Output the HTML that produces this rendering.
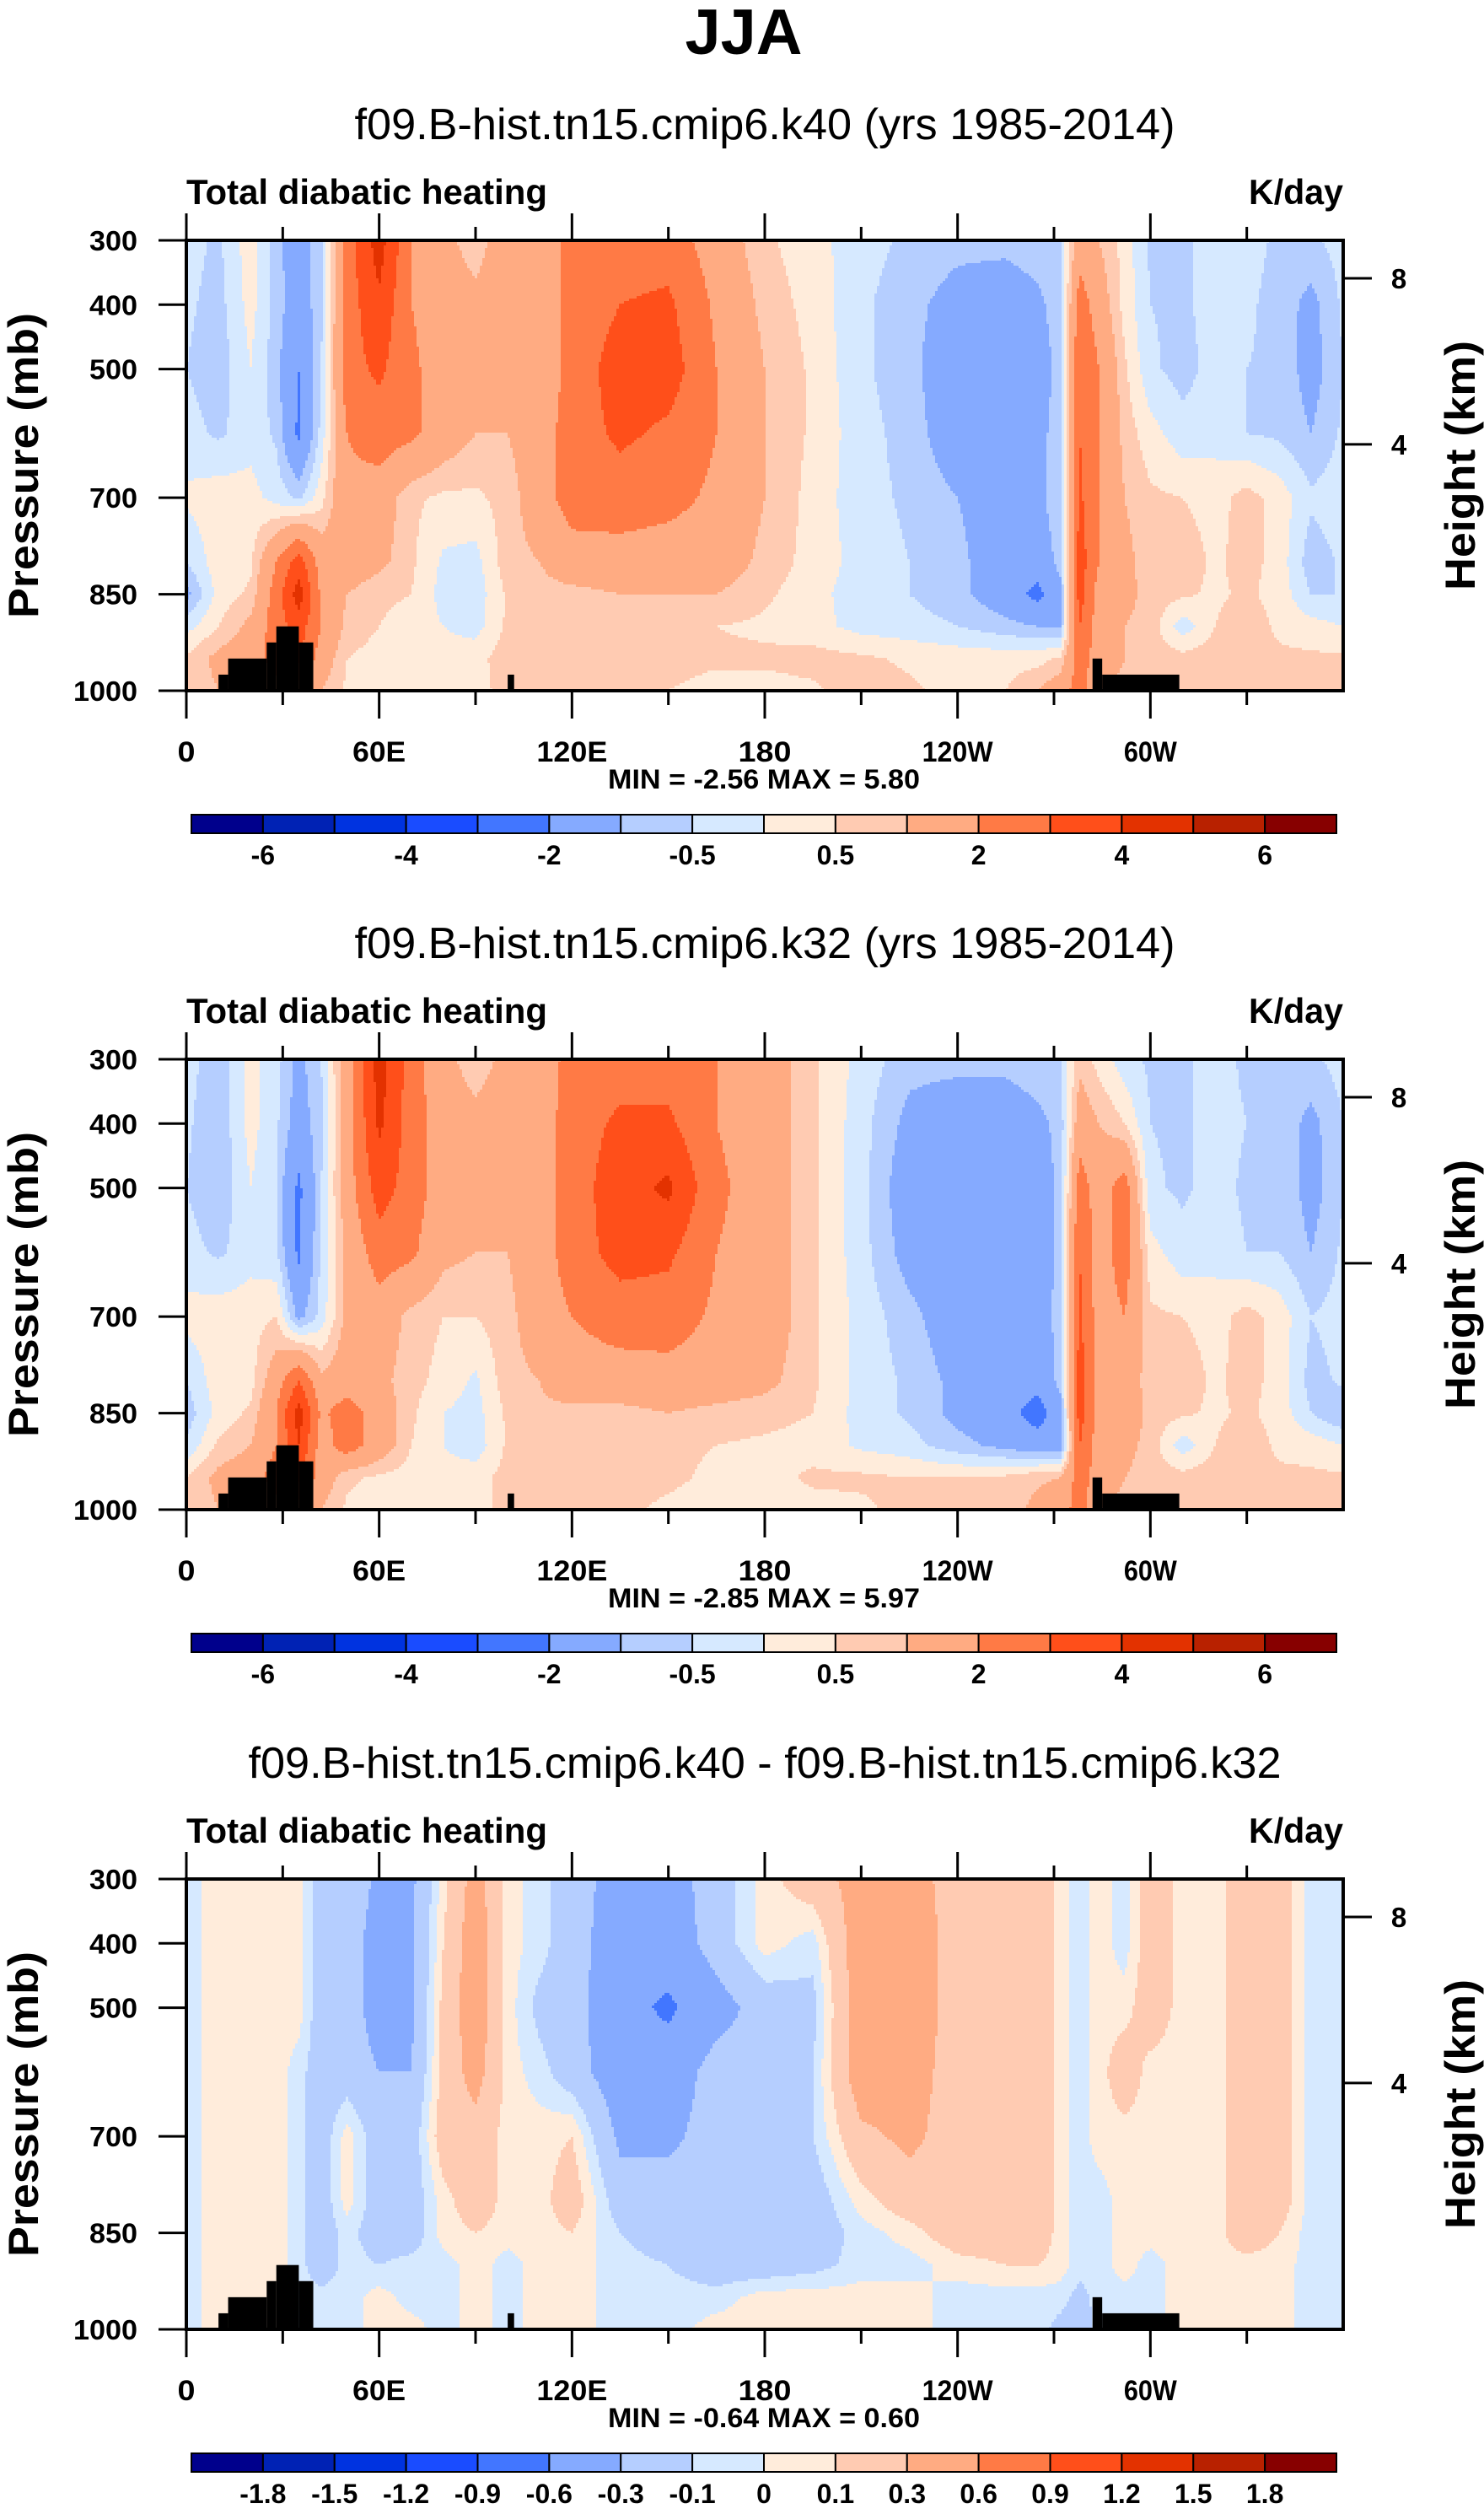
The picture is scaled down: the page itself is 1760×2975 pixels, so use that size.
<!DOCTYPE html>
<html><head><meta charset="utf-8"><style>
html,body{margin:0;padding:0;background:#fff;}
svg{display:block;font-family:"Liberation Sans",sans-serif;}
</style></head><body>
<svg id="fig" width="1760" height="2975" viewBox="0 0 1760 2975" xmlns="http://www.w3.org/2000/svg">
<text x="882" y="64" text-anchor="middle" font-size="76" font-weight="bold" textLength="139" lengthAdjust="spacingAndGlyphs">JJA</text>
</svg>
<script>
const lonNodes=[0,10,20,28,35,42,50,60,70,80,90,100,110,120,135,150,165,180,195,210,225,240,255,265,272,278,284,292,300,310,320,330,340,350,360];
const pLevels=[300,400,500,600,700,800,850,900,950,1000];
const field1=[
[-0.3,-0.6,0.3,-0.8,-1.5,-0.6,2.5,4.5,2.0,1.2,0.7,1.5,1.2,2.5,2.5,2.5,1.5,0.6,0.2,-0.3,-0.6,-0.8,-0.8,-0.6,-0.5,1.5,1.0,0.3,-0.6,-0.6,-0.3,-0.3,-0.6,-0.6,-0.3],
[-0.4,-0.7,0.2,-0.7,-1.5,-0.6,2.5,3.8,2.0,1.5,1.2,1.5,1.5,2.3,3.0,3.2,1.8,0.8,0.3,-0.4,-0.8,-1.3,-1.5,-1.2,-0.6,2.5,1.5,0.3,-0.5,-0.6,-0.3,-0.4,-0.7,-1.2,-0.4],
[-0.5,-0.8,0.0,-0.8,-2.0,-0.5,2.6,3.2,2.2,1.5,1.5,1.5,1.2,2.4,3.5,3.5,2.0,1.0,0.4,-0.4,-0.8,-1.6,-1.8,-1.5,-0.7,3.0,2.0,0.6,-0.4,-0.7,-0.3,-0.5,-0.6,-1.3,-0.5],
[-0.3,-0.6,-0.2,-0.6,-2.2,-0.3,2.0,2.5,2.2,1.5,1.0,1.0,1.5,2.5,3.2,2.8,2.0,1.0,0.4,-0.3,-0.7,-1.5,-1.6,-1.3,-0.6,3.0,2.0,0.8,0.2,-0.3,-0.2,-0.5,-0.6,-1.0,-0.4],
[0.1,0.3,0.2,-0.2,-0.6,0.3,1.8,1.5,0.6,0.4,0.4,0.7,1.5,2.5,2.5,2.3,1.8,1.0,0.3,-0.3,-0.6,-1.0,-1.5,-1.2,-0.6,3.2,2.0,1.0,0.6,0.5,0.3,0.7,0.3,-0.4,-0.2],
[-0.5,0.3,0.4,2.0,3.5,1.5,1.5,1.2,0.6,-0.1,-0.2,0.8,1.0,1.5,1.6,1.5,1.5,0.8,0.3,-0.2,-0.5,-0.8,-1.6,-1.5,-0.8,3.5,2.0,1.2,0.7,0.8,0.4,0.7,0.3,-0.8,-0.4],
[-1.2,0.2,0.6,2.5,4.5,1.8,1.0,0.6,0.5,-0.2,-0.3,0.6,0.8,0.8,1.0,1.0,1.0,0.6,0.2,-0.3,-0.5,-0.8,-1.5,-2.3,-1.2,3.5,1.5,1.2,0.8,0.6,0.4,0.6,0.3,-0.5,-0.5],
[-0.2,0.5,1.2,2.5,3.5,2.0,0.8,0.5,0.3,0.0,-0.2,0.6,0.8,0.7,0.6,0.5,0.5,0.4,0.2,-0.2,-0.3,-0.5,-0.8,-1.0,-1.0,3.0,1.5,1.0,0.8,-0.3,0.5,0.8,0.4,0.2,0.0],
[0.6,1.2,1.5,2.5,3.2,1.5,0.5,0.3,0.3,0.2,0.3,0.8,0.8,1.0,0.8,0.7,0.6,0.6,0.7,0.6,0.4,0.3,0.3,0.3,0.6,2.5,1.5,1.0,0.8,0.7,0.8,0.7,0.6,0.6,0.6],
[0.6,1.0,1.2,1.5,1.5,1.0,0.4,0.3,0.3,0.3,0.4,0.6,0.7,0.8,0.6,0.5,0.3,0.3,0.4,0.8,0.6,0.3,0.5,1.0,1.5,2.5,1.0,0.8,0.6,0.5,0.6,0.6,0.6,0.6,0.6]];
const field2=[
[-0.3,-0.8,0.2,-0.3,-1.2,-0.5,1.5,4.5,2.5,1.2,0.7,1.2,1.2,2.5,2.5,2.5,2.0,1.5,0.6,-0.2,-0.8,-0.8,-0.8,-0.6,-0.5,0.8,0.3,-0.3,-0.6,-0.6,-0.3,-0.6,-0.6,-0.6,-0.3],
[-0.4,-0.9,0.2,-0.4,-1.4,-0.6,1.5,4.2,2.5,1.5,1.2,1.5,1.5,2.5,3.2,3.2,2.0,1.5,0.6,-0.3,-1.2,-1.5,-1.5,-1.2,-0.8,1.5,1.0,0.5,-0.5,-0.6,-0.3,-0.5,-0.6,-1.2,-0.5],
[-0.5,-0.9,0.0,-0.5,-2.2,-0.5,1.5,3.5,2.5,1.5,1.5,1.5,1.5,2.5,3.6,4.2,2.2,1.5,0.6,-0.3,-1.5,-1.8,-1.8,-1.5,-0.8,2.5,1.5,2.5,-0.4,-0.6,-0.3,-0.6,-0.5,-1.3,-0.5],
[-0.3,-0.6,-0.2,-0.4,-2.2,-0.4,1.2,2.5,2.2,1.2,1.0,1.0,1.5,2.5,3.4,3.2,2.0,1.5,0.6,-0.3,-1.3,-1.6,-1.6,-1.5,-0.8,3.0,1.5,2.5,0.2,-0.3,-0.2,-0.5,-0.5,-1.0,-0.4],
[0.2,0.3,0.3,0.5,-1.2,-0.3,1.2,1.5,0.8,0.5,0.5,0.8,1.5,2.0,2.5,2.5,1.8,1.5,0.6,-0.2,-0.8,-1.5,-1.5,-1.5,-0.7,3.2,1.5,2.0,0.6,0.5,0.3,0.7,0.3,-0.5,-0.3],
[-0.5,0.3,0.3,1.5,3.0,1.2,1.5,1.2,0.7,0.3,-0.1,0.8,1.0,1.5,1.5,1.6,1.5,1.2,0.6,-0.2,-0.6,-1.2,-1.6,-1.6,-0.8,3.5,1.5,1.5,0.7,0.8,0.4,0.7,0.3,-0.7,-0.4],
[-0.8,0.2,0.6,2.0,4.5,1.8,2.5,1.5,0.6,0.0,-0.2,0.6,0.9,0.8,0.8,1.0,0.8,0.7,0.5,-0.2,-0.6,-1.2,-1.6,-2.5,-1.3,3.5,1.5,1.5,0.8,0.6,0.4,0.6,0.3,-0.5,-1.0],
[-0.4,0.6,1.0,2.0,4.0,1.5,2.5,1.5,0.5,0.0,-0.3,0.6,0.8,0.8,0.8,0.6,0.5,0.4,0.3,-0.1,-0.3,-0.8,-1.2,-1.5,-1.5,3.0,1.5,1.2,0.8,-0.3,0.5,0.8,0.4,0.3,0.0],
[0.5,1.2,1.5,2.5,3.2,1.5,0.6,0.4,0.3,0.2,0.3,0.7,0.8,1.0,0.7,0.6,0.4,0.3,0.6,0.6,0.5,0.5,0.6,0.9,1.0,2.5,1.5,1.0,0.8,0.7,0.8,0.7,0.6,0.6,0.6],
[0.6,1.0,1.2,1.5,1.5,1.0,0.4,0.3,0.3,0.3,0.4,0.6,0.7,0.8,0.6,0.4,0.3,0.3,0.3,0.4,0.7,0.7,0.7,1.2,1.5,2.5,1.0,0.8,0.6,0.5,0.6,0.6,0.6,0.6,0.6]];
const field3=[
[-0.05,0.05,0.05,0.05,0.05,-0.2,-0.15,-0.35,-0.35,0.05,0.4,0.05,-0.05,-0.2,-0.4,-0.4,-0.2,0.05,0.2,0.4,0.4,0.2,0.2,0.2,0.05,-0.05,0.05,-0.05,0.2,0.05,0.05,0.2,0.2,-0.05,-0.05],
[-0.05,0.05,0.05,0.05,0.05,-0.2,-0.2,-0.4,-0.35,0.1,0.45,0.05,-0.05,-0.2,-0.45,-0.45,-0.2,0.05,-0.05,0.45,0.45,0.2,0.2,0.2,0.05,-0.05,0.05,-0.05,0.2,0.05,0.05,0.2,0.2,-0.05,-0.05],
[-0.05,0.05,0.05,0.05,0.05,-0.2,-0.2,-0.4,-0.35,0.15,0.45,0.05,-0.15,-0.2,-0.5,-0.65,-0.4,-0.2,-0.15,0.45,0.45,0.2,0.2,0.2,0.05,-0.05,0.05,0.05,0.2,0.05,0.05,0.2,0.2,-0.05,-0.05],
[-0.05,0.05,0.05,0.05,-0.05,-0.2,-0.2,-0.3,-0.3,0.15,0.4,0.05,-0.05,-0.2,-0.45,-0.45,-0.2,-0.2,-0.1,0.45,0.4,0.2,0.2,0.2,0.05,-0.05,0.05,0.2,0.05,0.05,0.05,0.2,0.2,-0.05,-0.05],
[-0.05,0.05,0.05,0.05,-0.05,-0.2,0.05,-0.2,-0.2,0.2,0.2,0.05,0.05,0.1,-0.35,-0.35,-0.2,-0.2,-0.1,0.25,0.35,0.2,0.2,0.2,0.05,-0.05,0.05,0.05,0.05,0.05,0.05,0.2,0.2,-0.05,-0.05],
[-0.05,0.05,0.05,0.05,-0.05,-0.2,0.05,-0.2,-0.2,0.05,0.2,0.05,0.05,0.2,-0.2,-0.2,-0.2,-0.2,-0.2,0.05,0.2,0.2,0.2,0.2,0.05,-0.05,-0.05,0.05,0.05,0.05,0.05,0.2,0.2,-0.05,-0.05],
[-0.05,0.05,0.05,0.05,-0.05,-0.2,-0.05,-0.2,-0.2,0.05,0.1,0.05,0.05,0.1,-0.1,-0.2,-0.2,-0.2,-0.2,-0.05,0.05,0.2,0.2,0.2,0.05,-0.05,-0.05,0.05,0.05,0.05,0.05,0.2,0.1,-0.05,-0.05],
[-0.05,0.05,0.05,0.05,-0.05,-0.2,-0.05,-0.1,-0.05,-0.05,0.05,-0.05,0.05,0.05,-0.05,-0.1,-0.2,-0.2,-0.15,-0.05,-0.05,0.05,0.1,0.1,0.05,-0.05,-0.05,0.05,-0.05,0.05,0.05,0.05,0.05,-0.05,-0.05],
[-0.05,0.05,0.05,0.05,-0.05,-0.05,-0.05,0.05,-0.05,-0.05,0.05,-0.05,0.05,0.05,-0.05,-0.05,-0.05,0.05,0.05,0.05,0.05,-0.05,-0.05,-0.05,-0.05,-0.15,-0.05,-0.05,-0.05,0.05,0.05,0.05,0.05,-0.05,-0.05],
[-0.05,0.05,0.05,0.05,-0.05,-0.05,-0.05,0.05,0.05,-0.05,0.05,-0.05,0.05,0.05,-0.05,-0.05,0.05,0.05,0.05,0.05,0.05,-0.05,-0.05,-0.05,-0.15,-0.2,-0.05,-0.05,-0.05,0.05,0.05,0.05,0.05,-0.05,-0.05]];
const levels1=[-6,-5,-4,-3,-2,-1,-0.5,0,0.5,1,2,3,4,5,6];
const levels3=[-1.8,-1.5,-1.2,-0.9,-0.6,-0.3,-0.1,0,0.1,0.3,0.6,0.9,1.2,1.5,1.8];
const cbLabels1=["","-6","","-4","","-2","","-0.5","","0.5","","2","","4","","6"];
const cbLabels3=["","-1.8","-1.5","-1.2","-0.9","-0.6","-0.3","-0.1","0","0.1","0.3","0.6","0.9","1.2","1.5","1.8"];
const palette=["#00008c","#0022b4","#0033e0","#1a4cff","#4276ff","#85aaff","#b5ceff","#d6e9ff","#ffecdb","#ffcbb2","#ffab82","#ff7a45","#ff4f1a","#e33200","#b82100","#870000"];
const maskLon=[10,13,25,28,35,39.5,100,102,282,285,309];
const maskTop=[975,950,925,900,925,1000,975,1000,950,975,1000];
const xTickLon=[0,60,120,180,240,300];
const xTickLabels=["0","60E","120E","180","120W","60W"];
const yTickP=[300,400,500,700,850,1000];
const heightKm=[8,4];
const heightP=[359,617];
const subtitles=["f09.B-hist.tn15.cmip6.k40 (yrs 1985-2014)","f09.B-hist.tn15.cmip6.k32 (yrs 1985-2014)","f09.B-hist.tn15.cmip6.k40 - f09.B-hist.tn15.cmip6.k32"];
const minMax=[["-2.56","5.80"],["-2.85","5.97"],["-0.64","0.60"]];

const NS="http://www.w3.org/2000/svg";
const svg=document.getElementById('fig');
const X0=221,X1=1593,Y0=285,Y1=819;
function mk(tag,attrs,parent){const e=document.createElementNS(NS,tag);for(const k in attrs)e.setAttribute(k,attrs[k]);(parent||svg).appendChild(e);return e;}
function px(lon){return X0+lon/360*(X1-X0);}
function py(p,oy){return oy+Y0+(p-300)/700*(Y1-Y0);}
function findIdx(arr,v){for(let i=0;i<arr.length-2;i++){if(v<arr[i+1])return i;}return arr.length-2;}
function sample(field,lon,p){
  const i=findIdx(lonNodes,lon),j=findIdx(pLevels,p);
  const tx=(lon-lonNodes[i])/(lonNodes[i+1]-lonNodes[i]);
  const ty=(p-pLevels[j])/(pLevels[j+1]-pLevels[j]);
  const a=field[j][i],b=field[j][i+1],c=field[j+1][i],d=field[j+1][i+1];
  return (a*(1-tx)+b*tx)*(1-ty)+(c*(1-tx)+d*tx)*ty;
}
function cls(v,levels){let k=0;while(k<levels.length&&v>=levels[k])k++;return k;}

function panel(idx,oy,field,levels,cbLabels){
  const g=mk('g',{});
  
  
  const t=mk('text',{x:907,y:oy+165,'text-anchor':'middle','font-size':52,textLength:idx==2?1225:973,lengthAdjust:'spacingAndGlyphs'},g);
  t.textContent=subtitles[idx];
  
  
  const l=mk('text',{x:221,y:oy+242,'font-size':42,'font-weight':'bold',textLength:428,lengthAdjust:'spacingAndGlyphs'},g);
  l.textContent='Total diabatic heating';
  
  
  const u=mk('text',{x:1593,y:oy+242,'font-size':42,'font-weight':'bold','text-anchor':'end',textLength:112,lengthAdjust:'spacingAndGlyphs'},g);
  u.textContent='K/day';
  
  
  const hm=mk('g',{'shape-rendering':'crispEdges'},g);
  
  
  const step=3;
  for(let y=Y0;y<Y1;y+=step){
    const h=Math.min(step,Y1-y);
    const p=300+(y+h/2-Y0)/(Y1-Y0)*700;
    let runStart=X0,runCls=-1;
    for(let x=X0;;x+=step){
      const end=x>=X1;
      let c=-2;
      if(!end){const lon=Math.min(359.9,(x+step/2-X0)/(X1-X0)*360);c=cls(sample(field,lon,p),levels);}
      if(c!==runCls){
        if(runCls>=0){
          const r=mk('rect',{x:runStart,y:oy+y,width:Math.min(x,X1)-runStart+0.5,height:h+0.5,fill:palette[runCls]},hm);
          
          
        }
        runStart=x;runCls=c;
      }
      if(end)break;
    }
  }
  for(let k=0;k<maskLon.length-1;k++){
    if(maskTop[k]>=1000)continue;
    const r=mk('rect',{x:px(maskLon[k]),y:py(maskTop[k],oy),width:px(maskLon[k+1])-px(maskLon[k]),height:py(1000,oy)-py(maskTop[k],oy),fill:'#000'},g);
    
    
  }
  const f=mk('rect',{x:X0,y:oy+Y0,width:X1-X0,height:Y1-Y0,fill:'none',stroke:'#000','stroke-width':4},g);
  
  
  for(let lon=0;lon<=330;lon+=30){
    const major=lon%60===0,x=px(lon);
    const tt=mk('line',{x1:x,x2:x,y1:oy+Y0,y2:oy+Y0-(major?32:16),stroke:'#000','stroke-width':3},g);
    
    
    const tb=mk('line',{x1:x,x2:x,y1:oy+Y1,y2:oy+Y1+(major?33:17),stroke:'#000','stroke-width':3},g);
    
    
  }
  xTickLabels.forEach((s,k)=>{
    const tx=mk('text',{x:px(xTickLon[k]),y:oy+903,'text-anchor':'middle','font-size':34,'font-weight':'bold',textLength:s.length*21,lengthAdjust:'spacingAndGlyphs'},g);
    tx.textContent=s;
    
    
  });
  yTickP.forEach(p=>{
    const y=py(p,oy);
    const ln=mk('line',{x1:188,x2:X0,y1:y,y2:y,stroke:'#000','stroke-width':3},g);
    
    
    const s=String(p);
    const tx=mk('text',{x:163,y:y+12,'text-anchor':'end','font-size':33,'font-weight':'bold',textLength:s.length*19,lengthAdjust:'spacingAndGlyphs'},g);
    tx.textContent=s;
    
    
  });
  heightKm.forEach((km,k)=>{
    const y=py(heightP[k],oy);
    const ln=mk('line',{x1:X1,x2:1627,y1:y,y2:y,stroke:'#000','stroke-width':3},g);
    
    
    const tx=mk('text',{x:1659,y:y+12,'text-anchor':'middle','font-size':33,'font-weight':'bold'},g);
    tx.textContent=String(km);
    
    
  });
  const ya=mk('text',{x:0,y:0,transform:'translate(45,'+(oy+552)+') rotate(-90)','text-anchor':'middle','font-size':50,'font-weight':'bold',textLength:362,lengthAdjust:'spacingAndGlyphs'},g);
  ya.textContent='Pressure (mb)';
  
  
  const ha=mk('text',{x:0,y:0,transform:'translate(1749,'+(oy+552)+') rotate(-90)','text-anchor':'middle','font-size':50,'font-weight':'bold',textLength:296,lengthAdjust:'spacingAndGlyphs'},g);
  ha.textContent='Height (km)';
  
  
  const mm=mk('text',{x:906,y:oy+935,'text-anchor':'middle','font-size':32,'font-weight':'bold','xml:space':'preserve',textLength:370,lengthAdjust:'spacingAndGlyphs'},g);
  mm.textContent='MIN =  '+minMax[idx][0]+'  MAX =   '+minMax[idx][1];
  
  
  const cb=mk('g',{},g);
  
  
  const cx0=227,cx1=1585,cy=oy+966,ch=22,bw=(cx1-cx0)/palette.length;
  palette.forEach((c,k)=>{
    const r=mk('rect',{x:cx0+k*bw,y:cy,width:bw,height:ch,fill:c,stroke:'#000','stroke-width':2},cb);
    
    
  });
  cbLabels.forEach((s,k)=>{
    if(!s)return;
    const tx=mk('text',{x:cx0+k*bw,y:cy+59,'text-anchor':'middle','font-size':32,'font-weight':'bold'},cb);
    tx.textContent=s;
    
    
  });
}
panel(0,0,field1,levels1,cbLabels1);
panel(1,971,field2,levels1,cbLabels1);
panel(2,1943,field3,levels3,cbLabels3);
</script>
</body></html>
